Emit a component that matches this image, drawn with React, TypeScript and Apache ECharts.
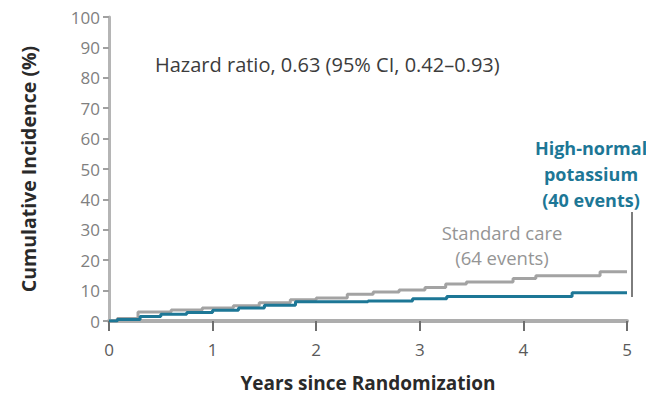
import React, { useEffect, useRef } from "react";
import * as echarts from "echarts";

// Cumulative incidence (%): [years, percent]
const standardCare: [number, number][] = [
  [0, 0], [0.08, 0.8], [0.28, 3.0], [0.6, 3.6], [0.9, 4.3], [1.2, 5.0], [1.45, 6.0],
  [1.75, 7.0], [2.0, 7.6], [2.3, 8.8], [2.55, 9.5], [2.8, 10.2], [3.05, 11.0],
  [3.25, 12.2], [3.45, 12.8], [3.9, 14.0], [4.12, 14.9], [4.74, 16.2], [5.0, 16.2],
];
const highNormalPotassium: [number, number][] = [
  [0, 0], [0.08, 0.5], [0.3, 1.5], [0.5, 2.2], [0.75, 2.8], [1.0, 3.5], [1.25, 4.3],
  [1.5, 5.2], [1.8, 6.3], [2.5, 6.6], [2.93, 7.3], [3.26, 8.1], [4.47, 9.3], [5.0, 9.3],
];
const xTicks = [0, 1, 2, 3, 4, 5];
const yTicks = [0, 10, 20, 30, 40, 50, 60, 70, 80, 90, 100];

const hazardText = "Hazard ratio, 0.63 (95% CI, 0.42\u20130.93)";
const standardLabel = ["Standard care", "(64 events)"];
const potassiumLabel = ["High-normal", "potassium", "(40 events)"];

const FONT = "'Open Sans', 'Liberation Sans', sans-serif";
const BLUE = "#1d7796";
const GRAY = "#a3a3a3";

export default function App() {
  const ref = useRef<HTMLDivElement>(null);
  useEffect(() => {
    const chart = echarts.init(ref.current!, null, { renderer: "svg" });
    chart.setOption({
      animation: false,
      textStyle: { fontFamily: FONT },
      grid: { left: 109, right: 19, top: 17, bottom: 74 },
      xAxis: {
        type: "value",
        min: xTicks[0],
        max: xTicks[xTicks.length - 1],
        interval: 1,
        name: "Years since Randomization",
        nameLocation: "middle",
        nameGap: 52,
        nameTextStyle: { fontFamily: FONT, fontSize: 19, fontWeight: "bold", color: "#2a2a2a" },
        axisLine: { show: true, lineStyle: { color: "#adadad", width: 4 } },
        axisTick: { show: true, length: 10, lineStyle: { color: "#6e6e6e", width: 2 } },
        axisLabel: { fontFamily: FONT, fontSize: 17, color: "#5a5a5a", margin: 20 },
        splitLine: { show: false },
      },
      yAxis: {
        type: "value",
        min: yTicks[0],
        max: yTicks[yTicks.length - 1],
        interval: 10,
        name: "Cumulative Incidence (%)",
        nameLocation: "middle",
        nameGap: 71,
        nameTextStyle: { fontFamily: FONT, fontSize: 19.5, fontWeight: "bold", color: "#2a2a2a" },
        axisLine: { show: true, lineStyle: { color: "#b5b5b5", width: 3 } },
        axisTick: { show: true, length: 6, lineStyle: { color: "#a0a0a0", width: 2 } },
        axisLabel: { fontFamily: FONT, fontSize: 17, color: "#808080", margin: 9 },
        splitLine: { show: false },
      },
      series: [
        {
          name: "Standard care",
          type: "line",
          step: "end",
          data: standardCare,
          showSymbol: false,
          lineStyle: { color: GRAY, width: 3 },
          z: 3,
        },
        {
          name: "High-normal potassium",
          type: "line",
          step: "end",
          data: highNormalPotassium,
          showSymbol: false,
          lineStyle: { color: BLUE, width: 3 },
          z: 4,
        },
      ],
      graphic: [
        {
          type: "text",
          x: 155,
          y: 64,
          style: { text: hazardText, font: `20px ${FONT}`, fill: "#3c3c3c", verticalAlign: "middle" },
        },
        {
          type: "text",
          x: 502,
          y: 245,
          style: {
            text: standardLabel.join("\n"),
            font: `18.5px ${FONT}`,
            fill: "#959595",
            align: "center",
            verticalAlign: "middle",
            lineHeight: 25,
          },
        },
        {
          type: "text",
          x: 591,
          y: 174,
          style: {
            text: potassiumLabel.join("\n"),
            font: `bold 18px ${FONT}`,
            fill: BLUE,
            align: "center",
            verticalAlign: "middle",
            lineHeight: 26,
          },
        },
        {
          type: "line",
          shape: { x1: 632, y1: 212, x2: 632, y2: 297 },
          style: { stroke: "#7d7d7d", lineWidth: 2 },
          z: 10,
        },
      ],
    });
    return () => chart.dispose();
  }, []);
  return (
    <div
      ref={ref}
      style={{ position: "absolute", left: 0, top: 0, width: 646, height: 397 }}
    />
  );
}
